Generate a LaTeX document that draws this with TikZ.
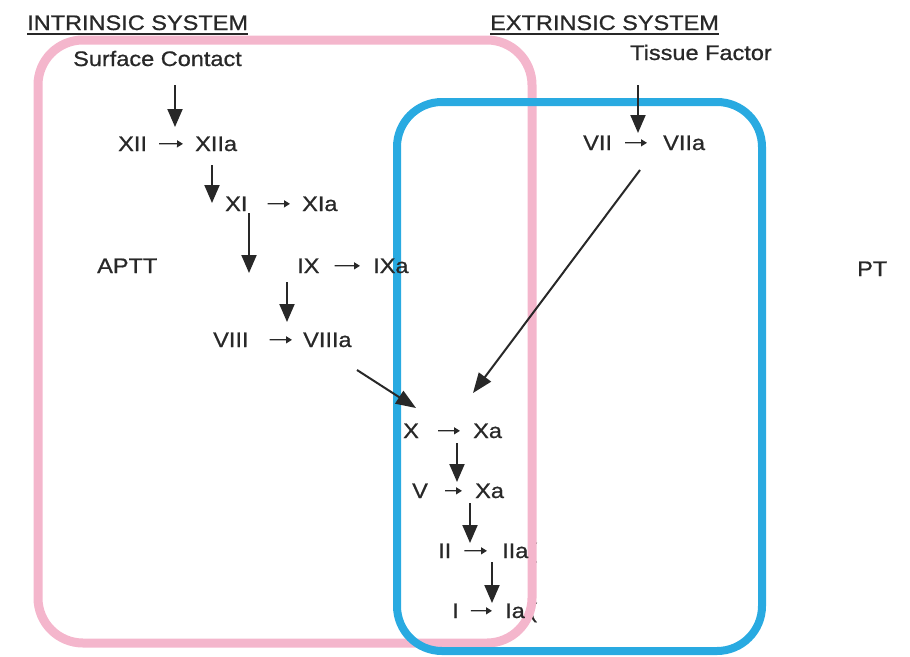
\documentclass[tikz,border=0pt]{standalone}
\usepackage{fontspec}
\setmainfont{Liberation Sans}[FakeStretch=1.12, FakeBold=0.8]
\usetikzlibrary{arrows.meta}
\definecolor{pinkline}{RGB}{244,182,204}
\definecolor{blueline}{RGB}{41,170,225}
\definecolor{ink}{RGB}{40,40,40}
\begin{document}
\begin{tikzpicture}[x=1pt,y=-1pt,
  lbl/.style={anchor=base west, inner sep=0pt, text=ink, font=\fontsize{21}{25}\selectfont},
  big/.style={draw=ink, line width=2pt, -{Triangle[width=15pt,length=18pt]}},
  diag/.style={draw=ink, line width=2pt, -{Triangle[width=15pt,length=20pt]}},
  small/.style 2 args={draw=ink, line width=1.3pt, -{Triangle[width=7pt,length=6pt]}, shorten <=#1, shorten >=#2},
  ul/.style={draw=ink, line width=1.3pt},
  pinkbox/.style={draw=pinkline, line width=9pt, rounded corners=45pt},
  bluebox/.style={draw=blueline, line width=8pt, rounded corners=45pt},
]
\useasboundingbox (0,0) rectangle (910,656);

% partially hidden parentheses (behind pink box)
\node[lbl] (parII) at (529,558) {(};
\node[lbl] (parI) at (529,618) {(};

% system boxes
\draw[pinkbox] (38,40) rectangle (532,643);
\draw[bluebox] (397,102) rectangle (762,651);

% titles
\node[lbl] (intr) at (27,30) {INTRINSIC SYSTEM};
\draw[ul] ([yshift=-4pt]intr.base west) -- ([yshift=-4pt]intr.base east);
\node[lbl] (extr) at (490,30) {EXTRINSIC SYSTEM};
\draw[ul] ([yshift=-4pt]extr.base west) -- ([yshift=-4pt]extr.base east);
\node[lbl] (surf) at (73,66) {Surface Contact};
\node[lbl] (tiss) at (630,60) {Tissue Factor};
\node[lbl] (aptt) at (97,273) {APTT};
\node[lbl] (pt) at (857,276) {PT};

% factors
\node[lbl] (xii) at (118,151) {XII};
\node[lbl] (xiia) at (195,151) {XIIa};
\node[lbl] (xi) at (225,211) {XI};
\node[lbl] (xia) at (302,211) {XIa};
\node[lbl] (ix) at (297,273) {IX};
\node[lbl] (ixa) at (373,273) {IXa};
\node[lbl] (viii) at (213,347) {VIII};
\node[lbl] (viiia) at (303,347) {VIIIa};
\node[lbl] (vii) at (583,150) {VII};
\node[lbl] (viia) at (663,150) {VIIa};
\node[lbl] (x) at (403,438) {X};
\node[lbl] (xa) at (473,438) {Xa};
\node[lbl] (v) at (412,498) {V};
\node[lbl] (xa2) at (475,498) {Xa};
\node[lbl] (ii) at (438,558) {II};
\node[lbl] (iia) at (502,558) {IIa};
\node[lbl] (i) at (452,618) {I};
\node[lbl] (ia) at (505,618) {Ia};

% small conversion arrows
\draw[small={12pt}{12pt}] (xii) -- (xiia);
\draw[small={20pt}{12pt}] (xi) -- (xia);
\draw[small={15pt}{13pt}] (ix) -- (ixa);
\draw[small={21pt}{11pt}] (viii) -- (viiia);
\draw[small={13pt}{16pt}] (vii) -- (viia);
\draw[small={19pt}{13pt}] (x) -- (xa);
\draw[small={17pt}{13pt}] (v) -- (xa2);
\draw[small={13pt}{15pt}] (ii) -- (iia);
\draw[small={12pt}{13pt}] (i) -- (ia);

% cascade arrow end points
\coordinate (s1) at (175,85);  \coordinate (e1) at (175,127);
\coordinate (s2) at (212,165); \coordinate (e2) at (212,203);
\coordinate (s3) at (249,213); \coordinate (e3) at (249,273);
\coordinate (s4) at (287,282); \coordinate (e4) at (287,322);
\coordinate (s5) at (638,85);  \coordinate (e5) at (638,133);
\coordinate (s6) at (357,370); \coordinate (e6) at (416,408);
\coordinate (s7) at (640,170); \coordinate (e7) at (473,393);
\coordinate (s8) at (457,443); \coordinate (e8) at (457,482);
\coordinate (s9) at (470,503); \coordinate (e9) at (470,543);
\coordinate (s10) at (492,562); \coordinate (e10) at (492,603);

\draw[big] (s1) -- (e1);
\draw[big] (s2) -- (e2);
\draw[big] (s3) -- (e3);
\draw[big] (s4) -- (e4);
\draw[big] (s5) -- (e5);
\draw[diag] (s6) -- (e6);
\draw[diag] (s7) -- (e7);
\draw[big] (s8) -- (e8);
\draw[big] (s9) -- (e9);
\draw[big] (s10) -- (e10);
\end{tikzpicture}
\end{document}
